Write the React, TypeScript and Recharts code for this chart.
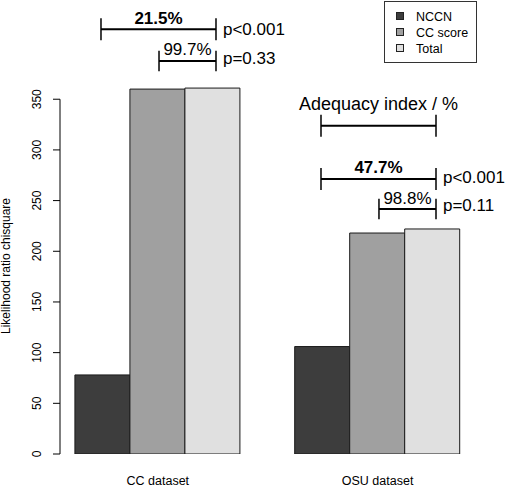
import { BarChart, Bar, XAxis, YAxis, ReferenceLine, ReferenceDot } from 'recharts';

const categories = ['CC dataset', 'OSU dataset'];
const groupPos = [2.5, 6.5];
const seriesNames = ['NCCN', 'CC score', 'Total'];
const nccn = [78, 106];
const ccScore = [360, 218];
const total = [361, 222];
const yTicks = [0, 50, 100, 150, 200, 250, 300, 350];

// brackets above the bars: [x1, x2, y] in data units
const bracketX1 = [1.466, 2.522, 5.47, 5.47, 6.525];
const bracketX2 = [3.559, 3.559, 7.563, 7.563, 7.563];
const bracketY = [419.0, 387.7, 323.9, 271.3, 241.7];
const bracketLabels = ['21.5%', '99.7%', 'Adequacy index / %', '47.7%', '98.8%'];
const bracketLabelY = [424.7, 393.6, 339.4, 276.9, 246.3];
const pValues = ['p<0.001', 'p=0.33', '', 'p<0.001', 'p=0.11'];
const pValueY = [413.7, 385.2, 0, 267.1, 239.7];

const colors = ['#3d3d3d', '#a0a0a0', '#e0e0e0'];
const FONT = '"Liberation Sans", Arial, Helvetica, sans-serif';

const data = categories.map((name, i) => ({
  name,
  pos: groupPos[i],
  nccn: nccn[i],
  ccScore: ccScore[i],
  total: total[i],
}));

const XTick = ({ x, payload }: any) => {
  const idx = groupPos.indexOf(payload.value);
  return (
    <text x={x} y={485} textAnchor="middle" fontSize={12.5} fontFamily={FONT} fill="#000">
      {categories[idx]}
    </text>
  );
};

const YTick = ({ y, payload }: any) => (
  <text
    x={41}
    y={y}
    transform={`rotate(-90, 41, ${y})`}
    textAnchor="middle"
    fontSize={12}
    fontFamily={FONT}
    fill="#000"
  >
    {payload.value}
  </text>
);

const YTitle = () => (
  <text
    x={10}
    y={266}
    transform="rotate(-90, 10, 266)"
    textAnchor="middle"
    fontSize={12}
    fontFamily={FONT}
    fill="#000"
  >
    Likelihood ratio chisquare
  </text>
);

const LegendBox = () => (
  <svg width={93} height={62} style={{ position: 'absolute', left: 384, top: 1 }}>
    <rect x={0.5} y={0.5} width={92} height={61} fill="#fff" stroke="#333" strokeWidth={1} />
    {seriesNames.map((name, i) => (
      <g key={name}>
        <rect x={12.5} y={11.5 + i * 16} width={7} height={7} fill={colors[i]} stroke="#222" strokeWidth={1} />
        <text x={32} y={19.5 + i * 16} fontSize={12.5} fontFamily={FONT} fill="#000">
          {name}
        </text>
      </g>
    ))}
  </svg>
);

const textShape = (label: string, anchor: 'middle' | 'start', bold: boolean, size: number) => (p: any) => (
  <text
    x={p.cx}
    y={p.cy}
    textAnchor={anchor}
    fontSize={size}
    fontWeight={bold ? 'bold' : 'normal'}
    fontFamily={FONT}
    fill="#000"
  >
    {label}
  </text>
);

export default function App() {
  const tickHalf = [10.8, 10.2, 10.8, 10.8, 10.2];
  return (
    <div style={{ position: 'absolute', left: 0, top: 0, width: 506, height: 487, background: '#fff' }}>
      <BarChart
        width={506}
        height={487}
        data={data}
        barGap={0}
        margin={{ top: 8, right: 30.6, bottom: 0, left: 0 }}
      >
        <XAxis
          dataKey="pos"
          type="number"
          domain={[0.72, 8.28]}
          ticks={groupPos}
          axisLine={false}
          tickLine={false}
          height={33}
          tick={<XTick />}
          allowDataOverflow
        />
        <YAxis
          type="number"
          domain={[0, 440]}
          ticks={yTicks}
          width={60}
          axisLine={false}
          tickSize={7}
          tickLine={{ stroke: '#000', strokeWidth: 1 }}
          tick={<YTick />}
          label={{ content: () => <YTitle /> }}
          allowDataOverflow
        />
        <Bar dataKey="nccn" name={seriesNames[0]} fill={colors[0]} stroke="#1a1a1a" strokeWidth={1} barSize={55} isAnimationActive={false} />
        <Bar dataKey="ccScore" name={seriesNames[1]} fill={colors[1]} stroke="#1a1a1a" strokeWidth={1} barSize={55} isAnimationActive={false} />
        <Bar dataKey="total" name={seriesNames[2]} fill={colors[2]} stroke="#1a1a1a" strokeWidth={1} barSize={55} isAnimationActive={false} />
        <ReferenceLine
          segment={[{ x: 0.72, y: 0 }, { x: 0.72, y: 350 }]}
          stroke="#000"
          strokeWidth={1}
          ifOverflow="visible"
        />
        {bracketY.map((y, i) => (
          <ReferenceLine
            key={`h${i}`}
            segment={[{ x: bracketX1[i], y }, { x: bracketX2[i], y }]}
            stroke="#000"
            strokeWidth={2}
            ifOverflow="visible"
          />
        ))}
        {bracketY.map((y, i) => (
          <ReferenceLine
            key={`l${i}`}
            segment={[{ x: bracketX1[i], y: y - tickHalf[i] }, { x: bracketX1[i], y: y + tickHalf[i] }]}
            stroke="#000"
            strokeWidth={1.5}
            ifOverflow="visible"
          />
        ))}
        {bracketY.map((y, i) => (
          <ReferenceLine
            key={`r${i}`}
            segment={[{ x: bracketX2[i], y: y - tickHalf[i] }, { x: bracketX2[i], y: y + tickHalf[i] }]}
            stroke="#000"
            strokeWidth={1.5}
            ifOverflow="visible"
          />
        ))}
        {bracketLabels.map((label, i) => (
          <ReferenceDot
            key={`t${i}`}
            x={(bracketX1[i] + bracketX2[i]) / 2}
            y={bracketLabelY[i]}
            r={0}
            ifOverflow="visible"
            shape={textShape(label, 'middle', i === 0 || i === 3, i === 2 ? 18 : 17)}
          />
        ))}
        {pValues.map((label, i) =>
          label ? (
            <ReferenceDot
              key={`p${i}`}
              x={bracketX2[i] + 0.127}
              y={pValueY[i]}
              r={0}
              ifOverflow="visible"
              shape={textShape(label, 'start', false, 17)}
            />
          ) : null
        )}
      </BarChart>
      <LegendBox />
    </div>
  );
}
